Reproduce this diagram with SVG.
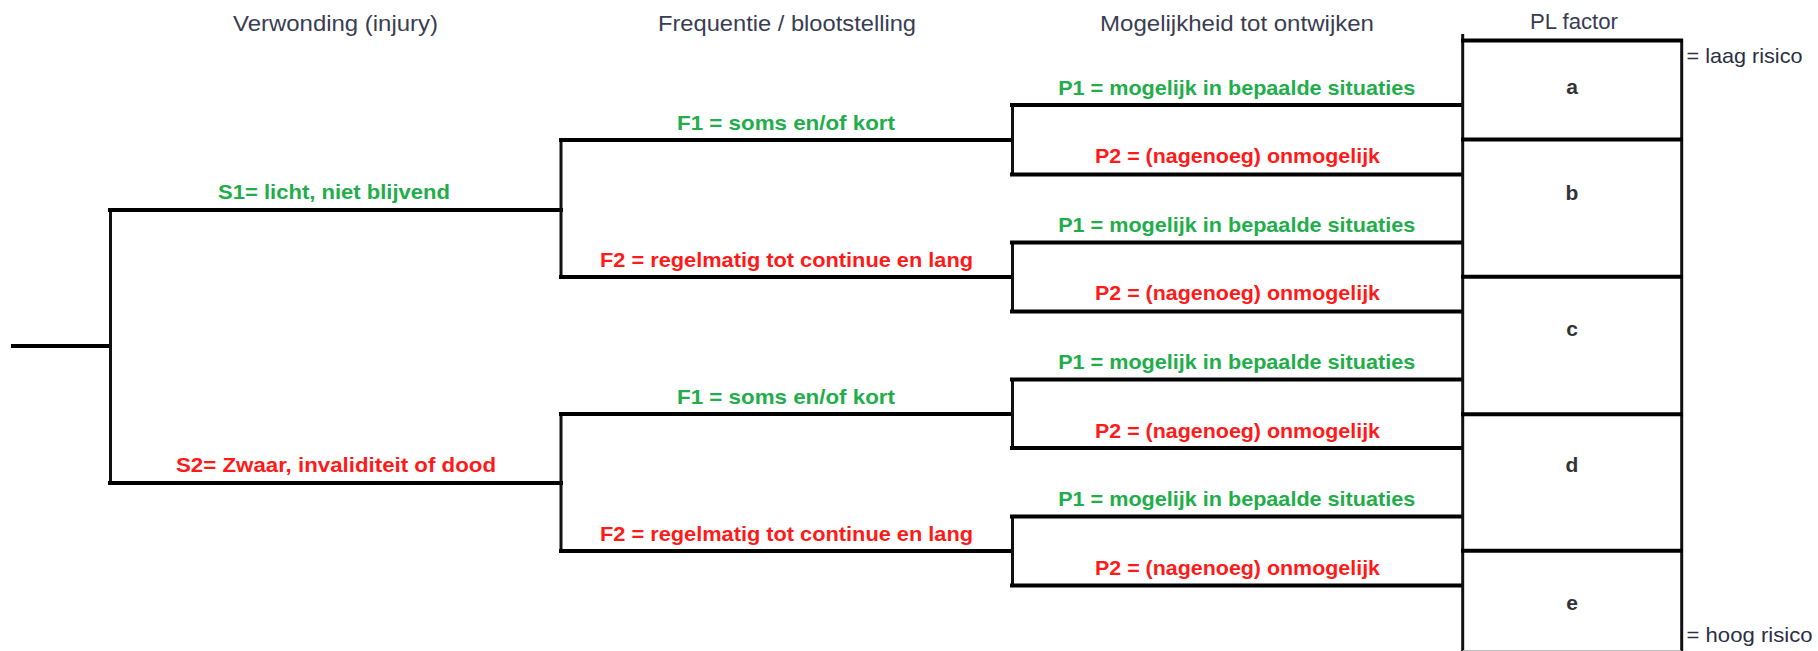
<svg xmlns="http://www.w3.org/2000/svg" width="1818" height="651" viewBox="0 0 1818 651">
<style>
.bg{fill:#ffffff}
.h{stroke:#000;stroke-width:4;fill:none;stroke-linecap:square}
.v{stroke:#111;stroke-width:3;fill:none}
.t{font-family:"Liberation Sans",Arial,sans-serif;font-size:22px;fill:#3a3d52;text-anchor:middle}
.g{font-family:"Liberation Sans",Arial,sans-serif;font-size:21px;font-weight:bold;fill:#22ad4b;text-anchor:middle}
.r{font-family:"Liberation Sans",Arial,sans-serif;font-size:21px;font-weight:bold;fill:#ff1a1a;text-anchor:middle}
.pl{font-family:"Liberation Sans",Arial,sans-serif;font-size:21px;font-weight:bold;fill:#333333;text-anchor:middle}
.k{font-family:"Liberation Sans",Arial,sans-serif;font-size:21px;fill:#2b2f45}
</style>
<rect class="bg" x="0" y="0" width="1818" height="651"/>

<g id="titles">
<text class="t" x="335.5" y="31" textLength="205" lengthAdjust="spacingAndGlyphs">Verwonding (injury)</text>
<text class="t" x="787" y="31" textLength="258" lengthAdjust="spacingAndGlyphs">Frequentie / blootstelling</text>
<text class="t" x="1237" y="31" textLength="274" lengthAdjust="spacingAndGlyphs">Mogelijkheid tot ontwijken</text>
<text class="t" x="1574" y="29" textLength="88" lengthAdjust="spacingAndGlyphs">PL factor</text>
</g>

<g id="connectors">
<line class="h" x1="13" y1="346" x2="110" y2="346"/>
<line class="v" x1="110.5" y1="209" x2="110.5" y2="484"/>
<line class="h" x1="110" y1="210" x2="561" y2="210"/>
<line class="h" x1="110" y1="483" x2="561" y2="483"/>
<line class="v" x1="561" y1="139" x2="561" y2="278"/>
<line class="v" x1="561" y1="413" x2="561" y2="552"/>
<line class="h" x1="561" y1="140" x2="1012" y2="140"/>
<line class="h" x1="561" y1="277" x2="1012" y2="277"/>
<line class="h" x1="561" y1="414" x2="1012" y2="414"/>
<line class="h" x1="561" y1="551" x2="1012" y2="551"/>
<line class="v" x1="1012.5" y1="104" x2="1012.5" y2="176"/>
<line class="v" x1="1012.5" y1="241" x2="1012.5" y2="313"/>
<line class="v" x1="1012.5" y1="378" x2="1012.5" y2="450"/>
<line class="v" x1="1012.5" y1="515" x2="1012.5" y2="587"/>
<line class="h" x1="1012" y1="105" x2="1462" y2="105"/>
<line class="h" x1="1012" y1="174.5" x2="1462" y2="174.5"/>
<line class="h" x1="1012" y1="242.5" x2="1462" y2="242.5"/>
<line class="h" x1="1012" y1="311.5" x2="1462" y2="311.5"/>
<line class="h" x1="1012" y1="379.5" x2="1462" y2="379.5"/>
<line class="h" x1="1012" y1="448" x2="1462" y2="448"/>
<line class="h" x1="1012" y1="516.5" x2="1462" y2="516.5"/>
<line class="h" x1="1012" y1="585.5" x2="1462" y2="585.5"/>
</g>

<g id="node-S1">
<text class="g" x="334" y="198.5" textLength="232" lengthAdjust="spacingAndGlyphs">S1= licht, niet blijvend</text>
</g>
<g id="node-S2">
<text class="r" x="336" y="472" textLength="320" lengthAdjust="spacingAndGlyphs">S2= Zwaar, invaliditeit of dood</text>
</g>

<g id="node-S1-F1">
<text class="g" x="786" y="130" textLength="218" lengthAdjust="spacingAndGlyphs">F1 = soms  en/of kort</text>
</g>
<g id="node-S1-F2">
<text class="r" x="786.5" y="266.5" textLength="373" lengthAdjust="spacingAndGlyphs">F2 = regelmatig tot continue en lang</text>
</g>
<g id="node-S2-F1">
<text class="g" x="786" y="403.5" textLength="218" lengthAdjust="spacingAndGlyphs">F1 = soms  en/of kort</text>
</g>
<g id="node-S2-F2">
<text class="r" x="786.5" y="540.5" textLength="373" lengthAdjust="spacingAndGlyphs">F2 = regelmatig tot continue en lang</text>
</g>

<g id="node-P1-1"><text class="g" x="1236.7" y="95" textLength="357" lengthAdjust="spacingAndGlyphs">P1 = mogelijk in bepaalde situaties</text></g>
<g id="node-P2-1"><text class="r" x="1237.5" y="163" textLength="285" lengthAdjust="spacingAndGlyphs">P2 = (nagenoeg) onmogelijk</text></g>
<g id="node-P1-2"><text class="g" x="1236.7" y="232" textLength="357" lengthAdjust="spacingAndGlyphs">P1 = mogelijk in bepaalde situaties</text></g>
<g id="node-P2-2"><text class="r" x="1237.5" y="300" textLength="285" lengthAdjust="spacingAndGlyphs">P2 = (nagenoeg) onmogelijk</text></g>
<g id="node-P1-3"><text class="g" x="1236.7" y="368.5" textLength="357" lengthAdjust="spacingAndGlyphs">P1 = mogelijk in bepaalde situaties</text></g>
<g id="node-P2-3"><text class="r" x="1237.5" y="438" textLength="285" lengthAdjust="spacingAndGlyphs">P2 = (nagenoeg) onmogelijk</text></g>
<g id="node-P1-4"><text class="g" x="1236.7" y="506" textLength="357" lengthAdjust="spacingAndGlyphs">P1 = mogelijk in bepaalde situaties</text></g>
<g id="node-P2-4"><text class="r" x="1237.5" y="575" textLength="285" lengthAdjust="spacingAndGlyphs">P2 = (nagenoeg) onmogelijk</text></g>

<g id="node-PL">
<line class="v" x1="1462.7" y1="34" x2="1462.7" y2="651"/>
<line class="v" x1="1681.7" y1="39" x2="1681.7" y2="651"/>
<line class="h" x1="1463" y1="40.5" x2="1681" y2="40.5"/>
<line class="h" x1="1463" y1="139.5" x2="1681" y2="139.5"/>
<line class="h" x1="1463" y1="276.7" x2="1681" y2="276.7"/>
<line class="h" x1="1463" y1="414.3" x2="1681" y2="414.3"/>
<line class="h" x1="1463" y1="550.7" x2="1681" y2="550.7"/>
<line stroke="#bbbbbb" stroke-width="1" x1="1463" y1="650.5" x2="1681" y2="650.5"/>
<text class="pl" x="1572" y="94">a</text>
<text class="pl" x="1572" y="200">b</text>
<text class="pl" x="1572" y="336">c</text>
<text class="pl" x="1572" y="472">d</text>
<text class="pl" x="1572" y="610">e</text>
</g>

<g id="legend">
<text class="k" x="1686.5" y="63" textLength="116" lengthAdjust="spacingAndGlyphs">= laag risico</text>
<text class="k" x="1686.5" y="642" textLength="126" lengthAdjust="spacingAndGlyphs">= hoog risico</text>
</g>
</svg>
